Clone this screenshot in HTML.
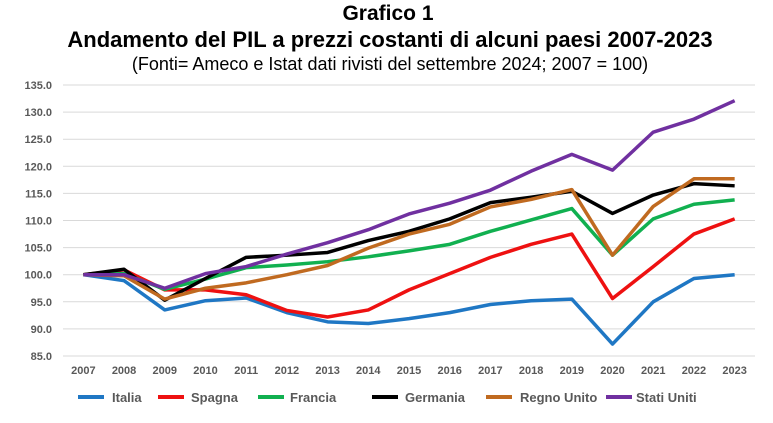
<!DOCTYPE html>
<html><head><meta charset="utf-8"><style>
body{margin:0;background:#fff;width:773px;height:418px;overflow:hidden;font-family:"Liberation Sans",sans-serif}
</style></head><body>
<svg id="c" width="773" height="418" xmlns="http://www.w3.org/2000/svg">
<text x="388" y="20" text-anchor="middle" font-size="21" font-weight="bold">Grafico 1</text>
<text x="390" y="47" text-anchor="middle" font-size="22" font-weight="bold">Andamento del PIL a prezzi costanti di alcuni paesi 2007-2023</text>
<text x="390" y="70" text-anchor="middle" font-size="18">(Fonti= Ameco e Istat dati rivisti del settembre 2024; 2007 = 100)</text>
<g id="grid"></g><g id="lines"></g><g id="legend"></g>
</svg>
<script>
const years=["2007","2008","2009","2010","2011","2012","2013","2014","2015","2016","2017","2018","2019","2020","2021","2022","2023"];
const yTicks=[85,90,95,100,105,110,115,120,125,130,135];
const italia=[100,98.9,93.5,95.2,95.7,93.0,91.3,91.0,91.9,93.0,94.5,95.2,95.5,87.2,95.0,99.3,100.0];
const spagna=[100,100.9,97.2,97.2,96.3,93.4,92.2,93.5,97.2,100.2,103.2,105.6,107.5,95.6,101.5,107.5,110.3];
const francia=[100,100.2,97.3,99.2,101.3,101.8,102.4,103.3,104.4,105.6,108.0,110.1,112.2,103.6,110.3,113.0,113.8];
const germania=[100,101.0,95.3,99.3,103.2,103.6,104.1,106.3,108.0,110.3,113.3,114.3,115.4,111.3,114.7,116.8,116.4];
const regnoUnito=[100,99.8,95.5,97.5,98.5,100.0,101.7,104.9,107.5,109.3,112.5,113.9,115.7,103.6,112.6,117.7,117.7];
const statiUniti=[100,100.0,97.5,100.2,101.5,103.8,105.9,108.3,111.2,113.2,115.6,119.1,122.2,119.3,126.3,128.7,132.1];
const seriesNames=["Italia","Spagna","Francia","Germania","Regno Unito","Stati Uniti"];
const seriesData=[italia,spagna,francia,germania,regnoUnito,statiUniti];
const colors=["#1f77c4","#ee1111","#11b050","#000000","#c06a20","#7030a0"];
const NS="http://www.w3.org/2000/svg";
const x0=63,x1=755,yTop=85,yBot=356,yMin=85,yMax=135;
const step=(x1-x0)/years.length;
const X=i=>x0+step*(i+0.5);
const Y=v=>yBot-(v-yMin)/(yMax-yMin)*(yBot-yTop);
function mk(t,a,p){const e=document.createElementNS(NS,t);for(const k in a)e.setAttribute(k,a[k]);p.appendChild(e);return e;}
const grid=document.getElementById('grid');
yTicks.forEach(v=>{
  const l=mk('line',{x1:x0,x2:x1,y1:Y(v),y2:Y(v),stroke:'#d9d9d9','stroke-width':1},grid);
  
  
  const t=mk('text',{x:52,y:Y(v)+4,'text-anchor':'end','font-size':11,'font-weight':'bold',fill:'#595959'},grid);
  t.textContent=v.toFixed(1);
  
  
});
years.forEach((yr,i)=>{
  const t=mk('text',{x:X(i),y:374,'text-anchor':'middle','font-size':11,'font-weight':'bold',fill:'#595959'},grid);
  t.textContent=yr;
  
  
});
const lines=document.getElementById('lines');
seriesData.forEach((d,s)=>{
  const p=mk('polyline',{points:d.map((v,i)=>X(i)+','+Y(v)).join(' '),fill:'none',stroke:colors[s],'stroke-width':3.5,'stroke-linejoin':'round'},lines);
  
  
});
const lg=document.getElementById('legend');
const lx=[78,158,258,372,486,606];
const tx=[112,191,290,405,520,636];
seriesNames.forEach((n,s)=>{
  const g=mk('g',{},lg);
  
  
  mk('line',{x1:lx[s],x2:lx[s]+26,y1:397,y2:397,stroke:colors[s],'stroke-width':4},g);
  const t=mk('text',{x:tx[s],y:402,'font-size':13,'font-weight':'bold',fill:'#595959'},g);
  t.textContent=n;
});
</script>
</body></html>
